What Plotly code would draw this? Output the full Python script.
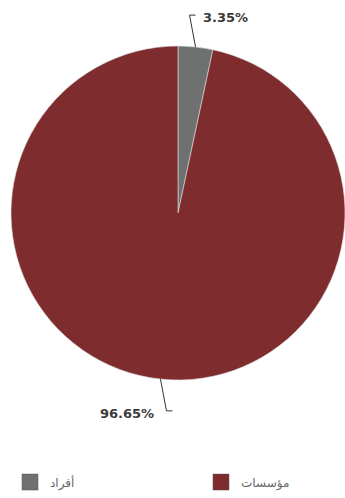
import math
import plotly.graph_objects as go

labels = ["أفراد", "مؤسسات"]
values = [3.35, 96.65]
colors = ["#6e716f", "#7e2c2e"]
label_texts = ["3.35%", "96.65%"]

W, H = 345, 498
cx, cy, r = 178, 213, 167   # pixel layout of the pie
ry_label = 181              # vertical reach used for label placement

fig = go.Figure()
fig.add_trace(go.Pie(
    labels=labels, values=values, sort=False, direction="clockwise",
    marker=dict(colors=colors, line=dict(color="#dddddd", width=0.6)),
    textinfo="none", hoverinfo="label+percent", showlegend=False,
    domain=dict(x=[(cx - r) / W, min(1, (cx + r) / W)], y=[1 - (cy + r) / H, 1 - (cy - r) / H]),
))

# legend via dummy square markers, one legend per item
legend_x = [10 / W, 201 / W]
for i, (lab, col) in enumerate(zip(labels, colors)):
    fig.add_trace(go.Scatter(x=[None], y=[None], mode="markers", name=lab,
                             legend="legend" if i == 0 else "legend%d" % (i + 1),
                             marker=dict(symbol="square", size=16, color=col,
                                         line=dict(color="#555555", width=0.5))))

def px2paper(x, y):
    return x / W, 1 - y / H

total = sum(values)
cum = 0
for v, t in zip(values, label_texts):
    mid = (cum + v / 2) / total * 2 * math.pi
    cum += v
    sx, sy = math.sin(mid), -math.cos(mid)
    p0 = (cx + r * sx, cy + r * sy)
    p1 = (p0[0] - 6 * math.copysign(1, sx), cy + (ry_label + 18) * sy)
    p2 = (p1[0] + 6, p1[1])
    for a, b in [(p0, p1), (p1, p2)]:
        x0, y0 = px2paper(*a)
        x1, y1 = px2paper(*b)
        fig.add_shape(type="line", xref="paper", yref="paper", x0=x0, y0=y0, x1=x1, y1=y1,
                      line=dict(color="#333333", width=1))
    if sy < 0:
        tx, ty = px2paper(p2[0] + 5, p2[1] + 2)
        anchor = "left"
    else:
        tx, ty = px2paper(p1[0] - 10, p1[1] + 3)
        anchor = "right"
    fig.add_annotation(x=tx, y=ty, xref="paper", yref="paper", text="<b>%s</b>" % t,
                       showarrow=False, xanchor=anchor, yanchor="middle",
                       font=dict(family="DejaVu Sans", size=13, color="#3a3a3a"))

legend_common = dict(orientation="h", xanchor="left", y=0.032, yanchor="middle",
                     font=dict(family="DejaVu Sans", size=12, color="#666666"),
                     bgcolor="rgba(0,0,0,0)")
fig.update_layout(
    width=W, height=H, margin=dict(l=0, r=0, t=0, b=0, autoexpand=False),
    paper_bgcolor="white", plot_bgcolor="white",
    xaxis=dict(visible=False), yaxis=dict(visible=False),
    legend=dict(x=legend_x[0], **legend_common),
    legend2=dict(x=legend_x[1], **legend_common),
)
fig.write_html("out.html", config={"displayModeBar": False},
               post_script="document.body.style.margin='0px';")
